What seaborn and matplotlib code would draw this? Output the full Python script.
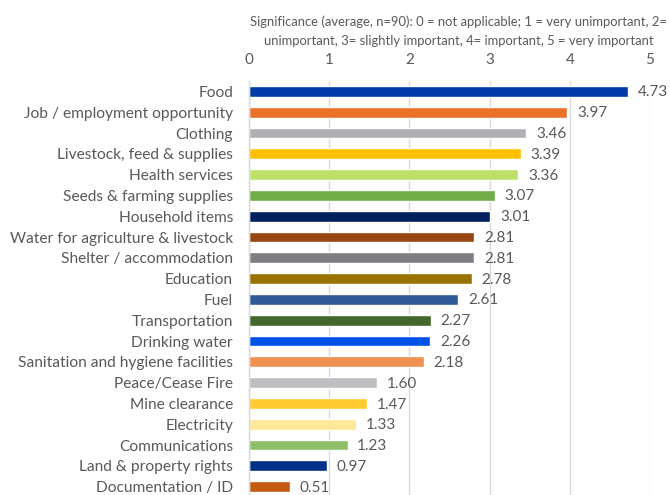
import matplotlib
matplotlib.use("Agg")
import matplotlib.pyplot as plt
import seaborn as sns
import pandas as pd

categories = [
    "Food", "Job / employment opportunity", "Clothing", "Livestock, feed & supplies",
    "Health services", "Seeds & farming supplies", "Household items",
    "Water for agriculture & livestock", "Shelter / accommodation", "Education",
    "Fuel", "Transportation", "Drinking water", "Sanitation and hygiene facilities",
    "Peace/Cease Fire", "Mine clearance", "Electricity", "Communications",
    "Land & property rights", "Documentation / ID",
]
values = [4.73, 3.97, 3.46, 3.39, 3.36, 3.07, 3.01, 2.81, 2.81, 2.78,
          2.61, 2.27, 2.26, 2.18, 1.60, 1.47, 1.33, 1.23, 0.97, 0.51]
value_labels = ["4.73", "3.97", "3.46", "3.39", "3.36", "3.07", "3.01", "2.81", "2.81", "2.78",
                "2.61", "2.27", "2.26", "2.18", "1.60", "1.47", "1.33", "1.23", "0.97", "0.51"]
colors = ["#003AA8", "#E97128", "#AFB0B3", "#FFC000", "#BDE066", "#70AD47", "#002060",
          "#974511", "#7E7F83", "#997300", "#2E5A98", "#43682B", "#0052E6", "#F1914F",
          "#BFBFC3", "#FFCA30", "#FFE699", "#8FBF66", "#003087", "#C55A11"]
x_ticks = [0, 1, 2, 3, 4, 5]
title = ("Significance (average, n=90): 0 = not applicable; 1 = very unimportant, 2=\n"
         "unimportant, 3= slightly important, 4= important, 5 = very important")

sns.set_theme(style="white")
plt.rcParams["font.family"] = ["Lato", "DejaVu Sans"]

df = pd.DataFrame({"category": categories, "value": values})

fig = plt.figure(figsize=(6.7, 4.95), dpi=100)
ax = fig.add_axes([249 / 670, 0.0, (650 - 249) / 670, (495 - 81) / 495])

sns.barplot(data=df, x="value", y="category", hue="category", palette=colors,
            orient="h", dodge=False, legend=False, width=0.52, ax=ax, saturation=1)

text_color = "#595959"
for i, (v, lab) in enumerate(zip(values, value_labels)):
    ax.text(v + 0.12, i + 0.05, lab, va="center", ha="left", fontsize=11, color=text_color)

ax.set_xlim(0, 5)
ax.set_ylim(19.4, -0.5)
ax.set_xticks(x_ticks)
ax.xaxis.tick_top()
ax.xaxis.set_label_position("top")
ax.tick_params(axis="x", length=0, labelsize=11, labelcolor=text_color, pad=10)
ax.tick_params(axis="y", length=0, labelsize=11.2, labelcolor=text_color, pad=11.5)
ax.set_xlabel("")
ax.set_ylabel("")
ax.grid(axis="x", color="#D9D9D9", linewidth=1)
ax.set_axisbelow(True)
for s in ["top", "right", "bottom"]:
    ax.spines[s].set_visible(False)
ax.spines["left"].set_color("#D9D9D9")
ax.spines["left"].set_linewidth(1)

fig.text(459 / 670, 1 - 31 / 495, title, ha="center", va="center", fontsize=9.4,
         color=text_color, linespacing=1.75)

fig.savefig("out.png", dpi=100)
